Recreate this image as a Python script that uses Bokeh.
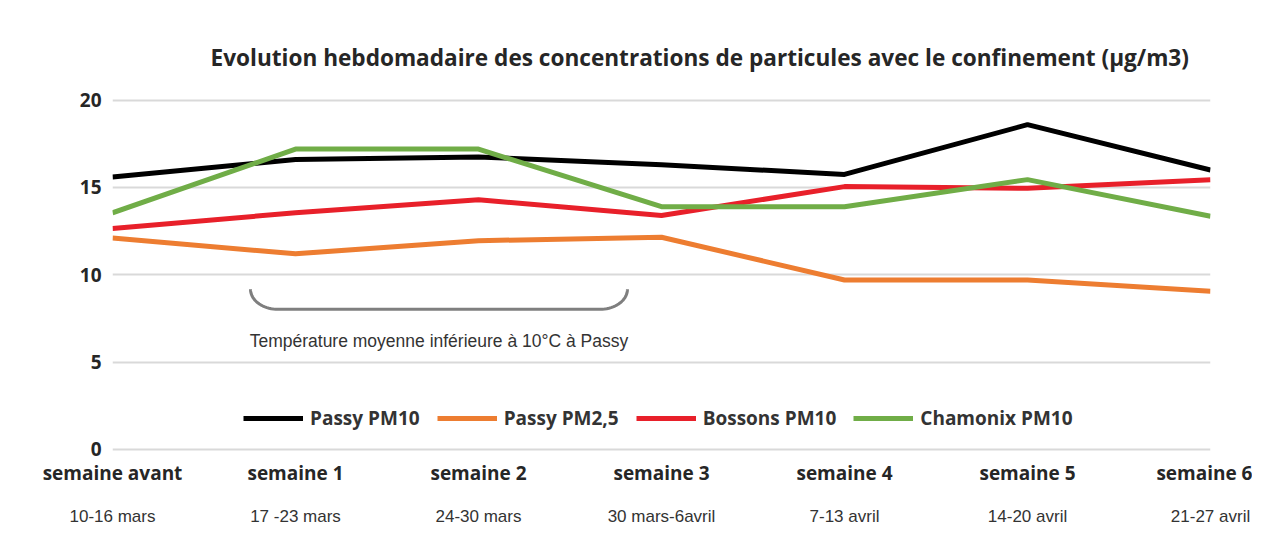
import numpy as np
from bokeh.plotting import figure
from bokeh.models import (Range1d, FixedTicker, LinearAxis, Legend, LegendItem)
from bokeh.core.properties import value
from bokeh.embed import file_html
from bokeh.resources import INLINE

# ---- data ----
weeks = ["semaine avant", "semaine 1", "semaine 2", "semaine 3",
         "semaine 4", "semaine 5", "semaine 6"]
dates = ["10-16 mars", "17 -23 mars", "24-30 mars", "30 mars-6avril",
         "7-13 avril", "14-20 avril", "21-27 avril"]
passy_pm10 = [15.6, 16.6, 16.75, 16.3, 15.75, 18.6, 16.0]
passy_pm25 = [12.1, 11.2, 11.95, 12.15, 9.7, 9.7, 9.05]
bossons_pm10 = [12.65, 13.55, 14.3, 13.4, 15.05, 14.95, 15.45]
chamonix_pm10 = [13.55, 17.2, 17.2, 13.9, 13.9, 15.45, 13.35]
y_ticks = [0, 5, 10, 15, 20]

series_names = ["Passy PM10", "Passy PM2,5", "Bossons PM10", "Chamonix PM10"]
series_values = [passy_pm10, passy_pm25, bossons_pm10, chamonix_pm10]
series_colors = ["#000000", "#ED7D31", "#E8202A", "#70AD47"]

title_text = "Evolution hebdomadaire des concentrations de particules avec le confinement (µg/m3)"
note_text = "Température moyenne inférieure à 10°C à Passy"
bracket_x = [0.754, 2.814]   # weeks covered by the annotation bracket
bracket_y = [9.17, 8.02]     # top / bottom of bracket

x = list(range(len(weeks)))

p = figure(width=1252, height=528, output_backend="svg", toolbar_location=None,
           x_range=Range1d(0, len(weeks) - 1), y_range=Range1d(-0.3, 20.5),
           min_border_left=112, min_border_right=42, min_border_top=91,
           min_border_bottom=73, x_axis_location=None, y_axis_location=None)
p.outline_line_color = None
p.background_fill_color = "white"
p.border_fill_color = "white"

# title
p.title.text = title_text
p.title.text_font = "Open Sans"
p.title.text_font_style = "bold"
p.title.text_font_size = "22.6px"
p.title.text_color = "#262626"
p.title.align = "left"
p.title.offset = 98
p.title.standoff = 38

# y axis
yax = LinearAxis(ticker=FixedTicker(ticks=y_ticks))
yax.axis_line_color = None
yax.major_tick_line_color = None
yax.minor_tick_line_color = None
yax.major_tick_out = 0
yax.major_label_standoff = 11
yax.major_label_text_font = "Open Sans"
yax.major_label_text_font_style = "bold"
yax.major_label_text_font_size = "19px"
yax.major_label_text_color = "#262626"
p.add_layout(yax, "left")

# x axes: week names (bold) and dates
xax1 = LinearAxis(ticker=FixedTicker(ticks=x))
xax1.major_label_overrides = {i: w for i, w in enumerate(weeks)}
xax2 = LinearAxis(ticker=FixedTicker(ticks=x))
xax2.major_label_overrides = {i: d for i, d in enumerate(dates)}
for ax in (xax1, xax2):
    ax.axis_line_color = None
    ax.major_tick_line_color = None
    ax.minor_tick_line_color = None
    ax.major_tick_out = 0
    ax.major_tick_in = 0
xax1.major_label_standoff = 5
xax1.major_label_text_font = "Open Sans"
xax1.major_label_text_font_style = "bold"
xax1.major_label_text_font_size = "19px"
xax1.major_label_text_color = "#262626"
xax2.major_label_standoff = 18
xax2.major_label_text_font = "Liberation Sans"
xax2.major_label_text_font_size = "17px"
xax2.major_label_text_color = "#333333"
p.add_layout(xax1, "below")
p.add_layout(xax2, "below")

# grid
p.ygrid.ticker = FixedTicker(ticks=y_ticks)
p.ygrid.grid_line_color = "#d9d9d9"
p.ygrid.grid_line_width = 2
p.xgrid.grid_line_color = None

# series
items = []
for name, vals, col in zip(series_names, series_values, series_colors):
    r = p.line(x, vals, line_color=col, line_width=5)
    items.append(LegendItem(label=name, renderers=[r]))

legend = Legend(items=items, orientation="horizontal", location=(131, 23),
                glyph_width=60, glyph_height=20, label_standoff=7, spacing=17,
                padding=0, margin=0, border_line_alpha=0, background_fill_alpha=0,
                label_text_font="Open Sans", label_text_font_style="bold",
                label_text_font_size="19px", label_text_color="#333333")
p.add_layout(legend)

# bracket annotation
rx = 0.15
t = np.linspace(0, np.pi / 2, 20)
x0, x1 = bracket_x
ytop, ybot = bracket_y
ry = ytop - ybot
left_x = x0 + rx - rx * np.cos(t)
left_y = ytop - ry * np.sin(t)
right_x = x1 - rx + rx * np.cos(t[::-1])
right_y = ytop - ry * np.sin(t[::-1])
bx = np.concatenate([left_x, right_x])
by = np.concatenate([left_y, right_y])
p.line(bx, by, line_color="#7f7f7f", line_width=3)

p.text(x=[(x0 + x1) / 2], y=[6.2], text=[note_text],
       text_font=value("Liberation Sans"), text_font_size="17.5px",
       text_color="#333333", text_align="center", text_baseline="middle")

open("out.html", "w").write(file_html(p, INLINE))
